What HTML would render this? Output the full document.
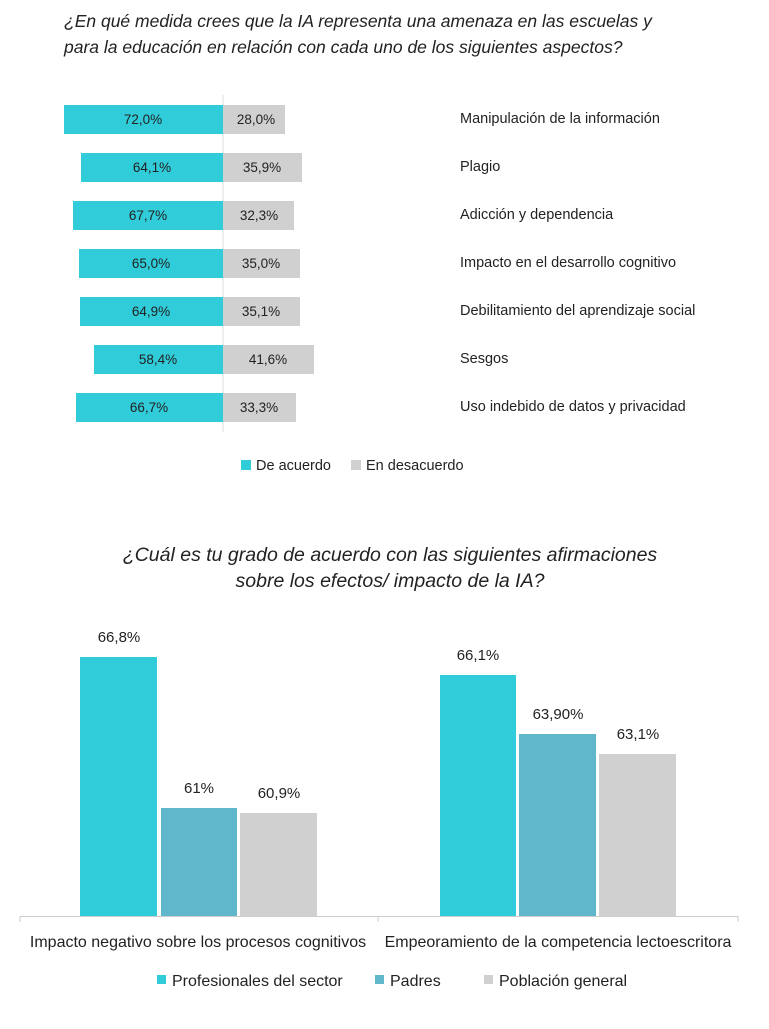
<!DOCTYPE html>
<html><head><meta charset="utf-8"><style>
body{margin:0;background:#fff;}
svg text{font-family:"Liberation Sans",sans-serif;fill:#222;}
</style></head><body>
<svg width="769" height="1024" xmlns="http://www.w3.org/2000/svg">
<text x="64" y="27" font-size="17.5" font-style="italic">¿En qué medida crees que la IA representa una amenaza en las escuelas y</text>
<text x="64" y="53" font-size="17.5" font-style="italic">para la educación en relación con cada uno de los siguientes aspectos?</text>
<line x1="223" y1="95" x2="223" y2="432" stroke="#ddd" stroke-width="1"/>
<g font-size="13.5">
<rect x="64" y="105" width="159" height="29" fill="#31CCD9"/><rect x="223" y="105" width="62" height="29" fill="#D0D0D0"/>
<text x="143" y="124" text-anchor="middle">72,0%</text><text x="256" y="124" text-anchor="middle">28,0%</text>
<rect x="81" y="153" width="142" height="29" fill="#31CCD9"/><rect x="223" y="153" width="79" height="29" fill="#D0D0D0"/>
<text x="152" y="172" text-anchor="middle">64,1%</text><text x="262" y="172" text-anchor="middle">35,9%</text>
<rect x="73" y="201" width="150" height="29" fill="#31CCD9"/><rect x="223" y="201" width="71" height="29" fill="#D0D0D0"/>
<text x="148" y="220" text-anchor="middle">67,7%</text><text x="259" y="220" text-anchor="middle">32,3%</text>
<rect x="79" y="249" width="144" height="29" fill="#31CCD9"/><rect x="223" y="249" width="77" height="29" fill="#D0D0D0"/>
<text x="151" y="268" text-anchor="middle">65,0%</text><text x="261" y="268" text-anchor="middle">35,0%</text>
<rect x="80" y="297" width="143" height="29" fill="#31CCD9"/><rect x="223" y="297" width="77" height="29" fill="#D0D0D0"/>
<text x="151" y="316" text-anchor="middle">64,9%</text><text x="261" y="316" text-anchor="middle">35,1%</text>
<rect x="94" y="345" width="129" height="29" fill="#31CCD9"/><rect x="223" y="345" width="91" height="29" fill="#D0D0D0"/>
<text x="158" y="364" text-anchor="middle">58,4%</text><text x="268" y="364" text-anchor="middle">41,6%</text>
<rect x="76" y="393" width="147" height="29" fill="#31CCD9"/><rect x="223" y="393" width="73" height="29" fill="#D0D0D0"/>
<text x="149" y="412" text-anchor="middle">66,7%</text><text x="259" y="412" text-anchor="middle">33,3%</text>
</g>
<g font-size="14.5">
<text x="460" y="123">Manipulación de la información</text>
<text x="460" y="171">Plagio</text>
<text x="460" y="219">Adicción y dependencia</text>
<text x="460" y="267">Impacto en el desarrollo cognitivo</text>
<text x="460" y="315">Debilitamiento del aprendizaje social</text>
<text x="460" y="363">Sesgos</text>
<text x="460" y="411">Uso indebido de datos y privacidad</text>
<rect x="241" y="460" width="10" height="10" fill="#31CCD9"/><text x="256" y="470">De acuerdo</text>
<rect x="351" y="460" width="10" height="10" fill="#D0D0D0"/><text x="366" y="470">En desacuerdo</text>
</g>
<text x="390" y="561" font-size="19.5" font-style="italic" text-anchor="middle">¿Cuál es tu grado de acuerdo con las siguientes afirmaciones</text>
<text x="390" y="587" font-size="19.5" font-style="italic" text-anchor="middle">sobre los efectos/ impacto de la IA?</text>
<g font-size="15">
<rect x="80" y="657" width="77" height="259" fill="#31CCD9"/>
<rect x="161" y="808" width="76" height="108" fill="#60B6CB"/>
<rect x="240" y="813" width="77" height="103" fill="#D0D0D0"/>
<rect x="440" y="675" width="76" height="241" fill="#31CCD9"/>
<rect x="519" y="734" width="77" height="182" fill="#60B6CB"/>
<rect x="599" y="754" width="77" height="162" fill="#D0D0D0"/>
<text x="119" y="642" text-anchor="middle">66,8%</text>
<text x="199" y="793" text-anchor="middle">61%</text>
<text x="279" y="798" text-anchor="middle">60,9%</text>
<text x="478" y="660" text-anchor="middle">66,1%</text>
<text x="558" y="719" text-anchor="middle">63,90%</text>
<text x="638" y="739" text-anchor="middle">63,1%</text>
<line x1="20" y1="916.5" x2="738" y2="916.5" stroke="#ccc"/>
<line x1="20" y1="916" x2="20" y2="922" stroke="#ccc"/><line x1="378" y1="916" x2="378" y2="922" stroke="#ccc"/><line x1="738" y1="916" x2="738" y2="922" stroke="#ccc"/>
</g>
<g font-size="16">
<text x="198" y="947" text-anchor="middle">Impacto negativo sobre los procesos cognitivos</text>
<text x="558" y="947" text-anchor="middle">Empeoramiento de la competencia lectoescritora</text>
<rect x="157" y="975" width="9" height="9" fill="#31CCD9"/><text x="172" y="986">Profesionales del sector</text>
<rect x="375" y="975" width="9" height="9" fill="#60B6CB"/><text x="390" y="986">Padres</text>
<rect x="484" y="975" width="9" height="9" fill="#D0D0D0"/><text x="499" y="986">Población general</text>
</g>
</svg>
</body></html>
